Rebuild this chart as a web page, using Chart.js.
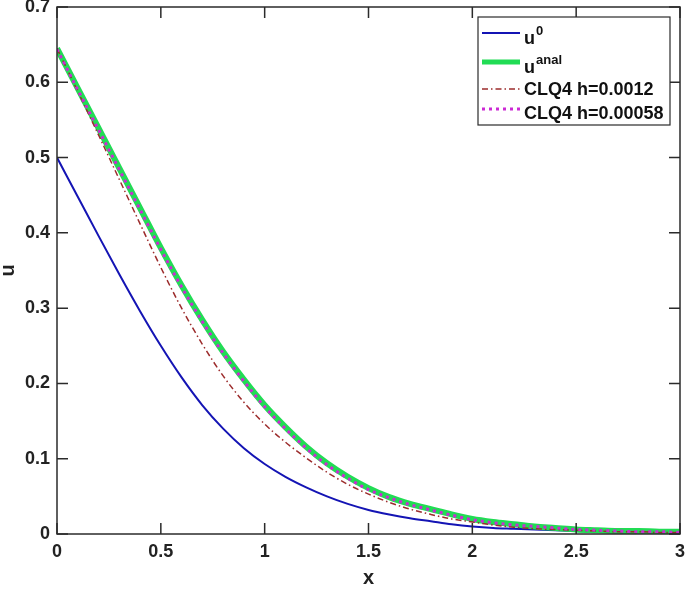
<!DOCTYPE html>
<html><head><meta charset="utf-8">
<script src="https://cdn.jsdelivr.net/npm/chart.js@4/dist/chart.umd.min.js"></script>
<style>html,body{margin:0;padding:0;background:#fff}canvas{display:block}</style>
</head><body>
<canvas id="c" width="685" height="592"></canvas>
<script>
const xValues = [0,0.1,0.2,0.3,0.4,0.5,0.6,0.7,0.8,0.9,1.0,1.1,1.2,1.3,1.4,1.5,1.6,1.7,1.8,1.9,2.0,2.1,2.2,2.3,2.4,2.5,2.6,2.7,2.8,2.9,3.0];
const u0 = [0.500,0.448,0.396,0.345,0.296,0.250,0.208,0.171,0.140,0.114,0.093,0.076,0.062,0.050,0.040,0.032,0.026,0.021,0.017,0.013,0.010,0.008,0.007,0.006,0.005,0.004,0.003,0.003,0.002,0.002,0.002];
const uAnal = [0.645,0.592,0.539,0.486,0.433,0.380,0.330,0.284,0.242,0.205,0.171,0.142,0.116,0.094,0.076,0.061,0.049,0.040,0.033,0.026,0.020,0.016,0.013,0.010,0.008,0.006,0.005,0.004,0.004,0.003,0.003];
const clq4h0012 = [0.645,0.588,0.530,0.471,0.412,0.354,0.300,0.252,0.210,0.175,0.146,0.122,0.101,0.082,0.066,0.053,0.042,0.033,0.026,0.020,0.016,0.012,0.009,0.007,0.006,0.005,0.004,0.003,0.003,0.002,0.002];
const clq4h00058 = [0.644,0.590,0.537,0.484,0.431,0.378,0.328,0.282,0.240,0.203,0.169,0.140,0.114,0.092,0.074,0.059,0.048,0.039,0.032,0.025,0.019,0.015,0.012,0.010,0.008,0.006,0.005,0.004,0.003,0.003,0.002];
const xTickValues = [0,0.5,1,1.5,2,2.5,3];
const xTickLabels = ['0','0.5','1','1.5','2','2.5','3'];
const yTickValues = [0,0.1,0.2,0.3,0.4,0.5,0.6,0.7];
const yTickLabels = ['0','0.1','0.2','0.3','0.4','0.5','0.6','0.7'];
const legendBase = ['u','u','CLQ4 h=0.0012','CLQ4 h=0.00058'];
const legendSup = ['0','anal','',''];

const FONT = '"Liberation Sans", Arial, Helvetica, sans-serif';
const toPts = arr => xValues.map((x,i)=>({x:x,y:arr[i]}));

const styles = [
  {color:'#1414b4', width:2, dash:[]},
  {color:'#21dc54', width:6, dash:[]},
  {color:'#9c2c2c', width:1.5, dash:[6,3,1.5,3]},
  {color:'#cc2ad4', width:3, dash:[3,4]}
];

const frame = {
  id:'frame',
  afterDraw(chart){
    const ctx = chart.ctx, a = chart.chartArea;
    const xs = chart.scales.x, ys = chart.scales.y;
    ctx.save();
    ctx.strokeStyle = '#2b2b2b';
    ctx.lineWidth = 1.5;
    ctx.strokeRect(a.left, a.top, a.right-a.left, a.bottom-a.top);
    const L = 11;
    ctx.beginPath();
    xTickValues.forEach(v=>{
      const px = xs.getPixelForValue(v);
      ctx.moveTo(px,a.bottom); ctx.lineTo(px,a.bottom-L);
      ctx.moveTo(px,a.top); ctx.lineTo(px,a.top+L);
    });
    yTickValues.forEach(v=>{
      const py = ys.getPixelForValue(v);
      ctx.moveTo(a.left,py); ctx.lineTo(a.left+L,py);
      ctx.moveTo(a.right,py); ctx.lineTo(a.right-L,py);
    });
    ctx.stroke();

    // legend
    const bw = 192, bh = 108;
    const bx = a.right - 10 - bw, by = a.top + 10;
    ctx.fillStyle = '#fff';
    ctx.fillRect(bx,by,bw,bh);
    ctx.strokeStyle = '#2b2b2b';
    ctx.lineWidth = 1.2;
    ctx.strokeRect(bx,by,bw,bh);
    const lineY = [16, 45, 72, 92];
    const baseY = [27, 56, 78, 102];
    for(let i=0;i<4;i++){
      const s = styles[i];
      ctx.beginPath();
      ctx.strokeStyle = s.color;
      ctx.lineWidth = Math.min(s.width, 5);
      ctx.setLineDash(s.dash);
      ctx.moveTo(bx+4, by+lineY[i]); ctx.lineTo(bx+42, by+lineY[i]);
      ctx.stroke();
      ctx.setLineDash([]);
      ctx.fillStyle = '#111';
      ctx.textBaseline = 'alphabetic';
      ctx.textAlign = 'left';
      ctx.font = 'bold 18px ' + FONT;
      const tx = bx+46;
      ctx.fillText(legendBase[i], tx, by+baseY[i]);
      if(legendSup[i]){
        const w = ctx.measureText(legendBase[i]).width;
        ctx.font = 'bold 13px ' + FONT;
        ctx.fillText(legendSup[i], tx+w+1, by+baseY[i]-9);
      }
    }
    ctx.restore();
  }
};

new Chart(document.getElementById('c'), {
  type:'line',
  data:{
    datasets:[
      {label:'u⁰', data:toPts(u0), order:3},
      {label:'uᵃⁿᵃˡ', data:toPts(uAnal), order:2},
      {label:'CLQ4 h=0.0012', data:toPts(clq4h0012), order:1},
      {label:'CLQ4 h=0.00058', data:toPts(clq4h00058), order:0}
    ].map((d,i)=>Object.assign(d,{
      borderColor:styles[i].color, backgroundColor:styles[i].color,
      borderWidth:styles[i].width, borderDash:styles[i].dash,
      pointRadius:0, fill:false, cubicInterpolationMode:'monotone', borderCapStyle:'butt'
    }))
  },
  options:{
    responsive:false, animation:false,
    layout:{padding:{left:0,right:5,top:7,bottom:0}},
    plugins:{legend:{display:false}, tooltip:{enabled:false}},
    scales:{
      x:{type:'linear', min:0, max:3,
        afterBuildTicks:s=>{s.ticks = xTickValues.map(v=>({value:v}));},
        afterFit:s=>{s.height = 58; s.paddingLeft = 0; s.paddingRight = 0;},
        grid:{display:false, drawTicks:false}, border:{display:false},
        ticks:{padding:7, color:'#222', font:{family:FONT, size:18, weight:'bold'},
          callback:(v)=>xTickLabels[xTickValues.indexOf(v)], maxRotation:0, autoSkip:false},
        title:{display:true, text:'x', color:'#222', font:{family:FONT, size:20, weight:'bold', lineHeight:1.2}, padding:{top:0,bottom:2}}
      },
      y:{type:'linear', min:0, max:0.7,
        afterBuildTicks:s=>{s.ticks = yTickValues.map(v=>({value:v}));},
        afterFit:s=>{s.width = 57; s.paddingTop = 0; s.paddingBottom = 0;},
        grid:{display:false, drawTicks:false}, border:{display:false},
        ticks:{padding:7, color:'#222', font:{family:FONT, size:18, weight:'bold'},
          callback:(v)=>yTickLabels[yTickValues.indexOf(v)], autoSkip:false},
        title:{display:true, text:'u', color:'#222', font:{family:FONT, size:20, weight:'bold', lineHeight:0.8}, padding:{top:0,bottom:0}}
      }
    }
  },
  plugins:[frame]
});
</script>
</body></html>
